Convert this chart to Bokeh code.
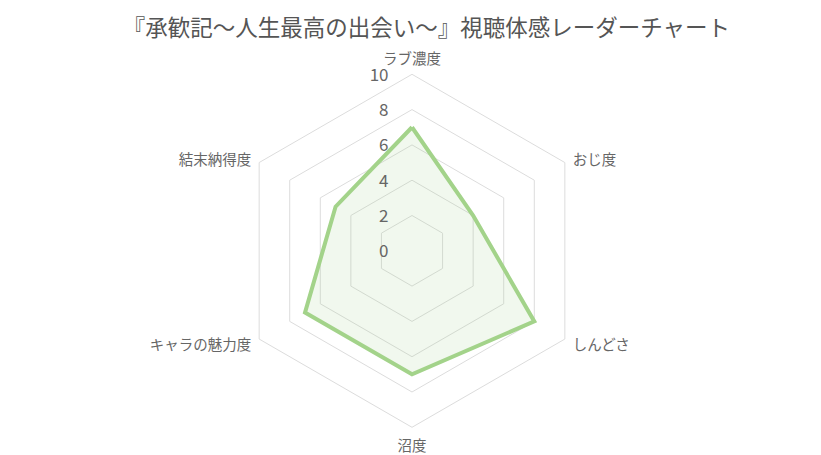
import math
from bokeh.plotting import figure
from bokeh.models import Range1d, ColumnDataSource
from bokeh.core.properties import value
from bokeh.embed import file_html
from bokeh.resources import INLINE

# ---- data ----
title_text = "『承歓記～人生最高の出会い～』視聴体感レーダーチャート"
categories = ["ラブ濃度", "おじ度", "しんどさ", "沼度", "キャラの魅力度", "結末納得度"]
scores = [7, 4, 8, 7, 7, 5]
tick_values = [0, 2, 4, 6, 8, 10]
tick_labels = ["0", "2", "4", "6", "8", "10"]
max_value = 10

# ---- layout (pixels) ----
W, H = 821, 455
CX, CY = 411.5, 250.3       # chart centre (pixels from left/top)
R = 176.5                   # radius of the outermost ring
FONT = "Noto Sans CJK JP"

p = figure(width=W, height=H, output_backend="svg", toolbar_location=None,
           x_range=Range1d(-CX, W - CX), y_range=Range1d(-(H - CY), CY),
           min_border=0, outline_line_color=None,
           x_axis_location=None, y_axis_location=None)
p.xgrid.visible = False
p.ygrid.visible = False
p.background_fill_color = "white"
p.border_fill_color = "white"

n = len(categories)
angles = [math.pi / 2 - 2 * math.pi * i / n for i in range(n)]

def to_xy(v, a):
    r = v / max_value * R
    return r * math.cos(a), r * math.sin(a)

# grid rings
ring_xs, ring_ys = [], []
for t in tick_values[1:]:
    pts = [to_xy(t, a) for a in angles]
    ring_xs.append([q[0] for q in pts] + [pts[0][0]])
    ring_ys.append([q[1] for q in pts] + [pts[0][1]])
p.multi_line(ring_xs, ring_ys, line_color="#dcdcdc", line_width=1)

# data polygon
pts = [to_xy(v, a) for v, a in zip(scores, angles)]
px = [q[0] for q in pts]
py = [q[1] for q in pts]
p.patch(px, py, fill_color="#a3d38a", fill_alpha=0.15, line_color=None)
p.line(px + [px[0]], py + [py[0]], line_color="#a3d38a", line_width=4,
       line_join="miter")

# tick labels
p.text(x=[-23.5] * len(tick_values), y=[t / max_value * R for t in tick_values],
       text=tick_labels, text_align="right", text_baseline="middle",
       text_font=value(FONT), text_font_size="17px", text_color="#666666")

# category labels
lab_r = R + 9
lx, ly, la = [], [], []
for c, a in zip(categories, angles):
    cs, sn = math.cos(a), math.sin(a)
    x = lab_r * cs
    y = lab_r * sn
    if abs(cs) < 1e-6:
        align = "center"
        y += 8 if sn > 0 else -8
    else:
        align = "left" if cs > 0 else "right"
    lx.append(x); ly.append(y); la.append(align)
src = ColumnDataSource(dict(x=lx, y=ly, text=categories, align=la))
p.text(x="x", y="y", text="text", source=src, text_align="align",
       text_baseline="middle", text_font=value(FONT), text_font_size="14.5px",
       text_color="#666666")

# title
p.text(x=[426 - CX], y=[CY - 25], text=[title_text], text_align="center",
       text_baseline="middle", text_font=value(FONT), text_font_size="22.5px",
       text_color="#555555")

open("out.html", "w").write(file_html(p, INLINE))
